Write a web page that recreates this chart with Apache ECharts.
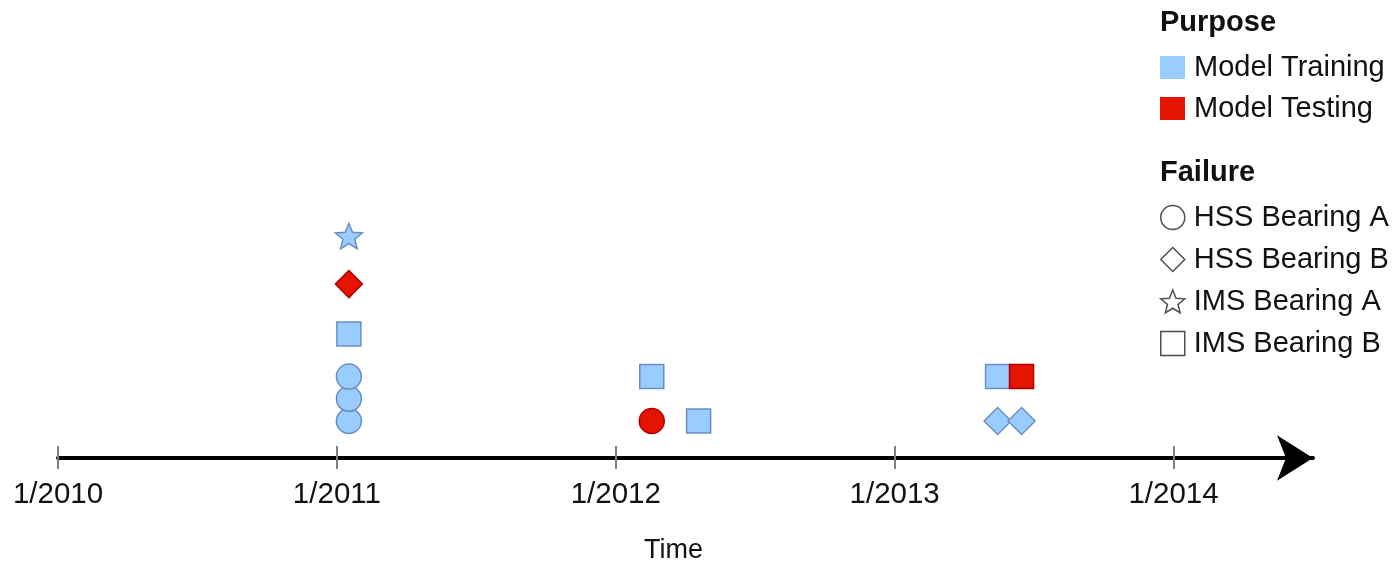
<!DOCTYPE html>
<html>
<head>
<meta charset="utf-8">
<script src="https://cdn.jsdelivr.net/npm/echarts@6/dist/echarts.min.js"></script>
<style>html,body{margin:0;padding:0;background:#fff;}#chart{width:1400px;height:561px;}</style>
</head>
<body>
<div id="chart"></div>
<script>
// Time in decimal years, stacking level (vertical slot), failure type
const yearTicks = [2010, 2011, 2012, 2013, 2014];
const trainingTime = [2011.043, 2011.043, 2011.043, 2011.043, 2011.043, 2012.129, 2012.297, 2013.369, 2013.369, 2013.455];
const trainingLevel = [1.0, 1.6, 2.2, 3.35, 6.0, 2.2, 1.0, 2.2, 1.0, 1.0];
const trainingFailure = ['HSS Bearing A', 'HSS Bearing A', 'HSS Bearing A', 'IMS Bearing B', 'IMS Bearing A', 'IMS Bearing B', 'IMS Bearing B', 'IMS Bearing B', 'HSS Bearing B', 'HSS Bearing B'];
const testingTime = [2011.043, 2012.129, 2013.455];
const testingLevel = [4.7, 1.0, 2.2];
const testingFailure = ['HSS Bearing B', 'HSS Bearing A', 'IMS Bearing B'];
const purposes = ['Model Training', 'Model Testing'];
const failures = ['HSS Bearing A', 'HSS Bearing B', 'IMS Bearing A', 'IMS Bearing B'];

const STAR = 'path://M50 0 L62.93 32.2 L97.55 34.55 L70.92 56.8 L79.39 90.45 L50 72 L20.61 90.45 L29.08 56.8 L2.45 34.55 L37.07 32.2 Z';
const symbolOf = {
  'HSS Bearing A': 'circle',
  'HSS Bearing B': 'diamond',
  'IMS Bearing A': STAR,
  'IMS Bearing B': 'rect'
};
const sizeOf = {
  'HSS Bearing A': 25,
  'HSS Bearing B': 27,
  'IMS Bearing A': 27,
  'IMS Bearing B': 24
};

function build(times, levels, fails) {
  return times.map((t, i) => ({
    value: [t, levels[i]],
    name: fails[i],
    symbol: symbolOf[fails[i]],
    symbolSize: sizeOf[fails[i]]
  }));
}

const TXT = '#111111';
const FONT = '"Liberation Sans", Arial, Helvetica, sans-serif';
const trainFill = '#99ccff', trainStroke = '#6c8ebf';
const testFill = '#e51400', testStroke = '#b20000';

const xBase = {
  type: 'value',
  min: 2010,
  max: 2014.5,
  interval: 1,
  splitLine: { show: false },
  position: 'bottom'
};

const chart = echarts.init(document.getElementById('chart'), null, { renderer: 'canvas' });
chart.setOption({
  animation: false,
  backgroundColor: '#ffffff',
  textStyle: { fontFamily: FONT },
  title: [
    { text: 'Purpose', left: 1155, top: 3, textStyle: { fontSize: 29, fontWeight: 'bold', color: TXT, fontFamily: FONT } },
    { text: 'Failure', left: 1155, top: 153, textStyle: { fontSize: 29, fontWeight: 'bold', color: TXT, fontFamily: FONT } }
  ],
  legend: [
    {
      orient: 'vertical', left: 1155, top: 48,
      itemWidth: 25, itemHeight: 23, itemGap: 12,
      selectedMode: false,
      textStyle: { fontSize: 29, color: TXT, fontFamily: FONT, padding: [0, 0, 0, 4] },
      data: [
        { name: 'Model Training', icon: 'rect', itemStyle: { color: trainFill, borderWidth: 0 } },
        { name: 'Model Testing', icon: 'rect', itemStyle: { color: testFill, borderWidth: 0 } }
      ]
    },
    {
      orient: 'vertical', left: 1155, top: 198,
      itemWidth: 24, itemHeight: 24, itemGap: 13,
      selectedMode: false,
      textStyle: { fontSize: 29, color: TXT, fontFamily: FONT, padding: [0, 0, 0, 4] },
      data: failures.map(f => ({
        name: f, icon: symbolOf[f],
        itemStyle: { color: '#ffffff', borderColor: '#222222', borderWidth: 1.5 }
      }))
    }
  ],
  grid: { left: 58, right: 87, top: 88, bottom: 103, containLabel: false, outerBoundsMode: 'none' },
  xAxis: [
    Object.assign({}, xBase, {
      name: 'Time',
      nameLocation: 'middle',
      nameGap: 79,
      nameTextStyle: { fontSize: 27, color: TXT, fontFamily: FONT, padding: [0, 24, 0, 0] },
      axisLine: { show: true, symbol: ['none', 'arrow'], symbolSize: [34, 36], lineStyle: { color: '#000000', width: 4 } },
      axisTick: { show: true, inside: false, length: 11, customValues: yearTicks, lineStyle: { color: '#808080', width: 2 } },
      axisLabel: { show: true, margin: 22, fontSize: 29.5, color: TXT, fontFamily: FONT, customValues: yearTicks, formatter: v => '1/' + Math.round(v) }
    }),
    Object.assign({}, xBase, {
      axisLine: { show: false },
      axisTick: { show: true, inside: true, length: 12, customValues: yearTicks, lineStyle: { color: '#808080', width: 2 } },
      axisLabel: { show: false }
    })
  ],
  yAxis: { type: 'value', min: 0, max: 10, show: false, splitLine: { show: false } },
  series: [
    {
      name: 'Model Training', type: 'scatter', xAxisIndex: 0,
      itemStyle: { color: trainFill, borderColor: trainStroke, borderWidth: 1.5, opacity: 1 },
      symbolKeepAspect: true,
      data: build(trainingTime, trainingLevel, trainingFailure)
    },
    {
      name: 'Model Testing', type: 'scatter', xAxisIndex: 0,
      itemStyle: { color: testFill, borderColor: testStroke, borderWidth: 1.5, opacity: 1 },
      symbolKeepAspect: true,
      data: build(testingTime, testingLevel, testingFailure)
    }
  ].concat(failures.map(f => ({
    name: f, type: 'scatter', xAxisIndex: 0, symbol: symbolOf[f], symbolKeepAspect: true,
    itemStyle: { color: '#ffffff', borderColor: '#222222', borderWidth: 1.5 },
    data: []
  })))
});
</script>
</body>
</html>
